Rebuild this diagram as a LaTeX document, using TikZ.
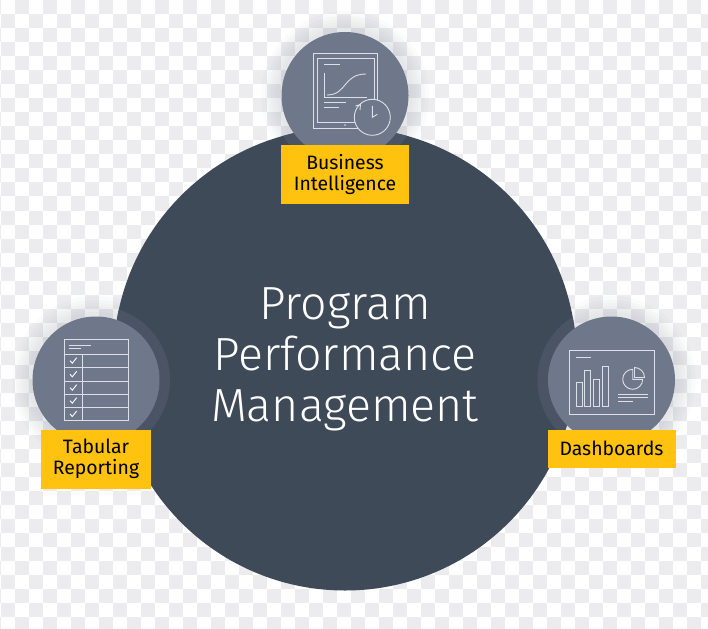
\documentclass[tikz,border=0pt]{standalone}
\usepackage{fontspec}
\setmainfont{Fira Sans}
\newfontfamily\lightfont{Fira Sans Light}
\usepackage{tikz}
\usetikzlibrary{positioning}
\definecolor{coredark}{HTML}{3F4A59}
\definecolor{ringdark}{HTML}{4A5465}
\definecolor{bubblegrey}{HTML}{6F778A}
\definecolor{tagyellow}{HTML}{FFC20E}
\definecolor{iconline}{HTML}{DDE0E6}
\definecolor{checker}{HTML}{ECECEE}
\definecolor{hazegrey}{HTML}{7A8190}
\tikzset{
    core/.style={circle, fill=coredark, minimum size=463pt, inner sep=0pt, outer sep=0pt},
    bubble/.style={circle, fill=bubblegrey, minimum size=127pt, inner sep=0pt, outer sep=0pt},
    ring/.style={circle, fill=ringdark, minimum size=148pt, inner sep=0pt},
    haze/.style={circle, fill=hazegrey, fill opacity=0.03, inner sep=0pt},
    tag/.style={fill=tagyellow, inner sep=0pt, outer sep=0pt, align=center, text=black, font=\fontsize{19.4}{21.5}\selectfont},
    icon/.style={draw=iconline, line width=0.9pt}
}

\begin{document}
\begin{tikzpicture}[x=1pt, y=-1pt]
    \useasboundingbox (0,0) rectangle (708,628);
    \fill[white] (0,0) rectangle (708,628);
    % faint squares behind everything
    \begin{scope}
        \clip (0,0) rectangle (708,628);
        \foreach \i in {0,...,51} {
            \foreach \j in {0,...,46} {
                \ifodd\numexpr\i+\j\relax
                    \fill[checker] ({\i*14-13},{\j*14-13.5}) rectangle ++(14,14);
                \fi
            }
        }
        % soft shade round the bubbles
        \foreach \c in {(345,95.5),(96,380),(611.5,380)} {
            \foreach \d in {136,142,148,154,160,168} {
                \node[haze, minimum size=\d pt] at \c {};
            }
        }
    \end{scope}

    \node[core]   (pm) at (345,359) {};
    \begin{scope}
        \clip (345,359) circle (231.5);
        \node[ring] (biring) at (345,95.5) {};
        \node[ring] (trring) at (96,380) {};
        \node[ring] (dbring) at (611.5,380) {};
    \end{scope}
    \node[text=white, align=center, font=\lightfont\fontsize{46.5}{51}\selectfont] (pmtext) at (pm) {Program\\Performance\\Management};

    \node[bubble] (bi) at (345,95.5) {};
    \node[bubble] (tr) at (96,380) {};
    \node[bubble] (db) at (611.5,380) {};

    \node[tag, minimum width=128pt, minimum height=59pt] (bilabel) [below=-14pt of bi] {Business\\Intelligence};
    \node[tag, minimum width=110pt, minimum height=59pt] (trlabel) [below=-14pt of tr] {Tabular\\Reporting};
    \node[tag, minimum width=128pt, minimum height=38pt] (dblabel) [below=-14pt of db] {Dashboards};

    % tablet and clock
    \draw[icon] (313.3,53.3) rectangle (377.3,128.7);
    \draw[icon] (317.3,58) rectangle (374,122);
    \draw[icon] (324,64) -- (340,64);
    \draw[icon] (324,73) -- (324,97) -- (367,97);
    \draw[icon] (327,95) .. controls (347,95) and (343,74) .. (366,74);
    \draw[icon] (324,102) -- (346,102);
    \draw[icon] (324,107) -- (339,107);
    \fill[iconline] (345,125) circle (0.9);
    \draw[icon, fill=bubblegrey] (372.3,117.3) circle (18);
    \draw[icon] (372.3,106) -- (372.3,117.3) -- (377.3,114.3);
    \draw[icon] (355.5,106) -- (360.5,104.5) -- (360,110);

    % table with ticks
    \draw[icon] (64,339.3) rectangle (128.7,420.7);
    \foreach \y in {354,367.3,381,394.3,407.3} {
        \draw[icon] (64,\y) -- (128.7,\y);
    }
    \draw[icon] (82,354) -- (82,420.7);
    \draw[icon] (68.7,345) -- (90.7,345);
    \draw[icon] (68.7,348.7) -- (80.7,348.7);
    \foreach \y in {360.7,374.3,387.7,400.7,414} {
        \draw[white, line width=0.9pt] (70,\y) -- (72.3,\y+2.5) -- (76.7,\y-3);
    }

    % screen with bars and pie
    \draw[icon] (569.3,350) rectangle (654,414.3);
    \draw[icon] (576,357) -- (590.7,357);
    \draw[icon] (576,382) rectangle (582,406.3);
    \draw[icon] (584.7,370.7) rectangle (590.7,406.3);
    \draw[icon] (593.7,379) rectangle (599.7,406.3);
    \draw[icon] (602.3,366.7) rectangle (608.3,406.3);
    \draw[icon] (632.7,369.3) arc[start angle=-90, end angle=-360, radius=10] -- (632.7,379.3) -- cycle;
    \draw[icon] (644.5,377.5) arc[start angle=0, end angle=-90, radius=10] -- (634.5,377.5) -- cycle;
    \draw[icon] (618,394) -- (648,394);
    \draw[icon] (618,397.3) -- (648,397.3);
    \draw[icon] (618,401) -- (632.7,401);
\end{tikzpicture}
\end{document}
